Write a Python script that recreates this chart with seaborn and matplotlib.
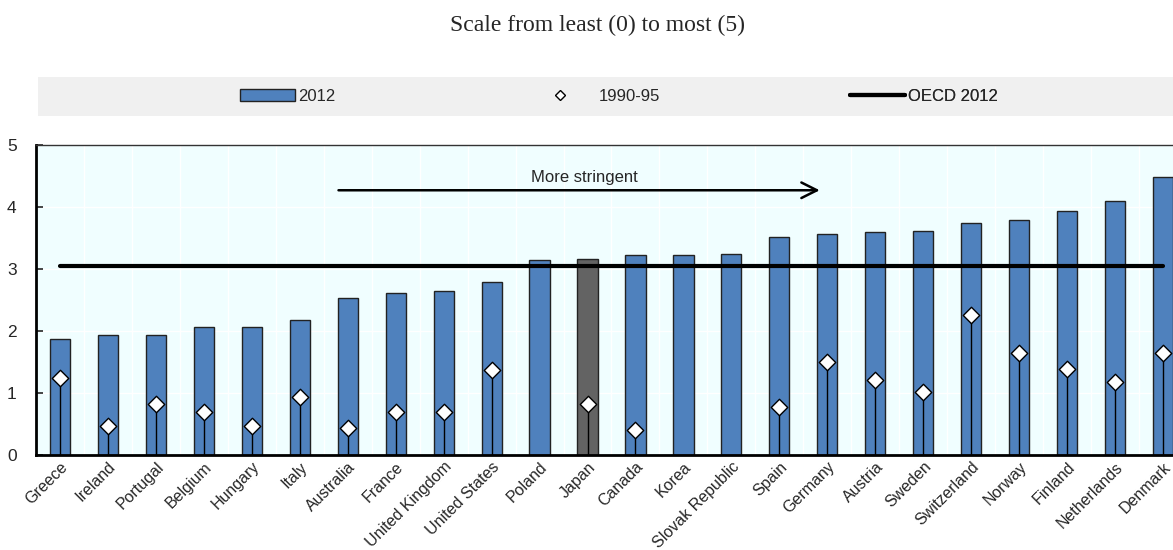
import numpy as np
import pandas as pd
import matplotlib
matplotlib.use("Agg")
import matplotlib.pyplot as plt
import seaborn as sns
from matplotlib.patches import Patch
from matplotlib.lines import Line2D

countries = ["Greece", "Ireland", "Portugal", "Belgium", "Hungary", "Italy", "Australia",
             "France", "United Kingdom", "United States", "Poland", "Japan", "Canada", "Korea",
             "Slovak Republic", "Spain", "Germany", "Austria", "Sweden", "Switzerland",
             "Norway", "Finland", "Netherlands", "Denmark"]
values_2012 = [1.87, 1.94, 1.94, 2.06, 2.06, 2.17, 2.53, 2.61, 2.65, 2.79, 3.15, 3.16, 3.23,
               3.23, 3.25, 3.51, 3.56, 3.60, 3.61, 3.75, 3.79, 3.93, 4.09, 4.48]
values_1990 = [1.25, 0.47, 0.82, 0.69, 0.47, 0.93, 0.44, 0.70, 0.69, 1.37, np.nan, 0.83, 0.40,
               np.nan, np.nan, 0.77, 1.50, 1.21, 1.02, 2.26, 1.64, 1.39, 1.17, 1.64]
oecd_2012 = 3.05
highlight = "Japan"

sns.set_style("white")
plt.rcParams["font.family"] = ["Liberation Sans", "DejaVu Sans"]

BLUE = "#4F81BD"
GREY = "#636363"

fig = plt.figure(figsize=(11.73, 5.5), dpi=100)
ax = fig.add_axes([36/1173, 95/550, 1 - 36/1173, 310/550])
ax.set_facecolor("#F0FEFF")

df = pd.DataFrame({"country": countries, "v2012": values_2012, "v1990": values_1990})
palette = {c: (GREY if c == highlight else BLUE) for c in countries}
sns.barplot(data=df, x="country", y="v2012", hue="country", palette=palette, legend=False,
            width=0.42, edgecolor="#222222", linewidth=1.0, saturation=1, ax=ax, zorder=2)

idx = np.arange(len(countries))
mask = ~np.isnan(df["v1990"].values)
ax.vlines(idx[mask], 0, df["v1990"].values[mask], color="black", lw=1.0, zorder=3)
sns.scatterplot(x=idx[mask], y=df["v1990"].values[mask], marker="D", s=70, color="white",
                edgecolor="black", linewidth=1.0, ax=ax, zorder=4)

ax.hlines(oecd_2012, 0, len(countries) - 1, color="black", lw=3, zorder=5, capstyle="round")

ax.annotate("", xy=(15.9, 4.27), xytext=(5.75, 4.27),
            arrowprops=dict(arrowstyle="->", lw=1.8, color="black", mutation_scale=28))
ax.text(10.93, 4.47, "More stringent", ha="center", va="center", fontsize=12)

ax.set_xlim(-0.5, len(countries) - 1 + 10/48)
ax.set_ylim(0, 5)
ax.set_yticks([0, 1, 2, 3, 4, 5])
ax.set_xlabel("")
ax.set_ylabel("")
ax.set_xticks(idx)
ax.set_xticklabels(countries, rotation=45, ha="right", rotation_mode="anchor", fontsize=11.5)
ax.set_xticks(idx[:-1] + 0.5, minor=True)
ax.tick_params(axis="x", which="major", length=0, pad=3)
ax.tick_params(axis="x", which="minor", direction="in", length=5, width=1.5, color="black")
ax.tick_params(axis="y", direction="in", length=5, width=1.2, labelsize=12.5, pad=14, left=True)
ax.grid(axis="y", color="white", lw=1)
ax.grid(axis="x", which="minor", color="white", lw=1)
ax.set_axisbelow(True)
for s in ["left", "bottom"]:
    ax.spines[s].set_color("black")
    ax.spines[s].set_linewidth(2)
ax.spines["top"].set_color("#333333")
ax.spines["top"].set_linewidth(1)
ax.spines["right"].set_visible(False)

# legend band
lax = fig.add_axes([38/1173, (550-116)/550, 1 - 38/1173, 39/550])
lax.set_facecolor("#F0F0F0")
lax.set_xticks([]); lax.set_yticks([])
for s in lax.spines.values():
    s.set_visible(False)
h1 = Patch(facecolor=BLUE, edgecolor="#222222", label="2012")
h2 = Line2D([], [], marker="D", color="none", markerfacecolor="white", markeredgecolor="black",
            markersize=5.5, label="1990-95")
h3 = Line2D([], [], color="black", lw=3, label="OECD 2012")
w = 1173 - 38
for h, xpos, hl in [(h1, 240, 3.3), (h2, 552, 1.0), (h3, 850, 3.3)]:
    lg = lax.legend(handles=[h], loc="center left", bbox_to_anchor=((xpos - 38) / w, 0.5),
                    frameon=False, fontsize=12, handlelength=hl, handletextpad=0.2 if hl > 2 else 1.8,
                    borderaxespad=0, borderpad=0)
    lax.add_artist(lg)

fig.text(598/1173, 1 - 25/550, "Scale from least (0) to most (5)", ha="center", va="center",
         fontsize=17, family=["Liberation Serif", "DejaVu Serif"])

fig.savefig("out.png", dpi=100)
